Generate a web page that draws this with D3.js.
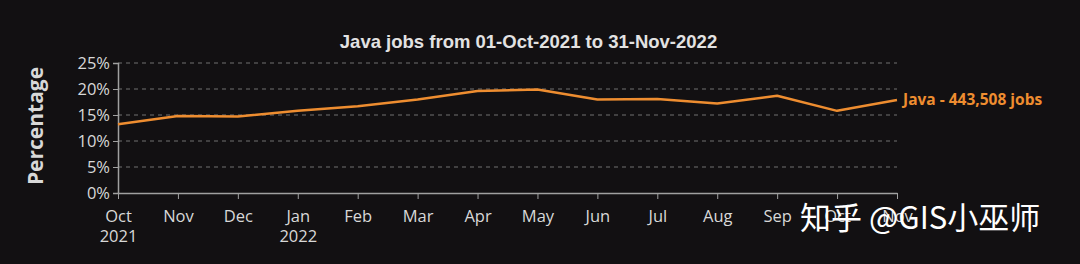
<!DOCTYPE html>
<html>
<head>
<meta charset="utf-8">
<script src="https://cdn.jsdelivr.net/npm/d3@7"></script>
<style>
  html, body { margin: 0; padding: 0; background: #121012; }
  svg { display: block; }
</style>
</head>
<body>
<div id="chart"></div>
<script>
// Datos del gráfico
const months = ['Oct', 'Nov', 'Dec', 'Jan', 'Feb', 'Mar', 'Apr', 'May', 'Jun', 'Jul', 'Aug', 'Sep', 'Oct ', 'Nov ']
const yearLabels = { 'Oct': '2021', 'Jan': '2022' }
const javaShare = [13.2, 14.8, 14.7, 15.8, 16.7, 18.0, 19.6, 19.9, 18.0, 18.1, 17.2, 18.7, 15.8, 17.9]
const yTicks = [0, 5, 10, 15, 20, 25]
const seriesLabel = 'Java - 443,508 jobs'
const title = 'Java jobs from 01-Oct-2021 to 31-Nov-2022'

const width = 1080, height = 264
const margin = { top: 63, right: 183, bottom: 71, left: 118 }

const svg = d3.select('#chart').append('svg')
  .attr('width', width)
  .attr('height', height)

svg.append('rect').attr('width', width).attr('height', height).attr('fill', '#121012')

// Escalas
const x = d3.scalePoint()
  .domain(months)
  .range([margin.left, width - margin.right])

const y = d3.scaleLinear()
  .domain([0, 25])
  .range([height - margin.bottom, margin.top])

// Grilla punteada
svg.append('g')
  .selectAll('line')
  .data(yTicks.filter(d => d > 0))
  .enter()
  .append('line')
  .attr('x1', margin.left)
  .attr('x2', width - margin.right)
  .attr('y1', d => y(d))
  .attr('y2', d => y(d))
  .attr('stroke', '#707070')
  .attr('stroke-width', 1)
  .attr('stroke-dasharray', '4,4')

// Eje x
const xAxis = svg.append('g')
  .attr('transform', `translate(0, ${y(0)})`)
  .call(d3.axisBottom(x).tickSize(6).tickSizeOuter(0).tickPadding(11))
xAxis.select('.domain').attr('stroke', '#a0a0a0').attr('stroke-width', 1.5)
xAxis.selectAll('.tick line').attr('stroke', '#a0a0a0')
xAxis.selectAll('.tick text')
  .attr('fill', '#d8d8d8')
  .attr('font-family', 'Open Sans, sans-serif')
  .attr('font-size', 16.5)
  .each(function (d) {
    const t = d3.select(this)
    if (yearLabels[d]) {
      t.append('tspan').attr('x', 0).attr('dy', '1.2em').text(yearLabels[d])
    }
  })

// Eje y
const yAxis = svg.append('g')
  .attr('transform', `translate(${margin.left}, 0)`)
  .call(d3.axisLeft(y).tickValues(yTicks).tickFormat(d => d + '%').tickSize(5).tickPadding(3))
yAxis.select('.domain').attr('stroke', '#a0a0a0').attr('stroke-width', 1.5)
yAxis.selectAll('.tick line').attr('stroke', '#a0a0a0')
yAxis.selectAll('.tick text')
  .attr('fill', '#d8d8d8')
  .attr('font-family', 'Open Sans, sans-serif')
  .attr('font-size', 16.5)

// Línea
const line = d3.line()
  .x((d, i) => x(months[i]))
  .y(d => y(d))

svg.append('path')
  .datum(javaShare)
  .attr('fill', 'none')
  .attr('stroke', '#ee8d30')
  .attr('stroke-width', 2.5)
  .attr('stroke-linejoin', 'round')
  .attr('d', line)

// Etiqueta de la serie
svg.append('text')
  .attr('x', x(months[months.length - 1]) + 6)
  .attr('y', y(javaShare[javaShare.length - 1]) + 5)
  .attr('fill', '#ee8d30')
  .attr('font-family', 'Open Sans, sans-serif')
  .attr('font-weight', 'bold')
  .attr('font-size', 15.5)
  .text(seriesLabel)

// Título
svg.append('text')
  .attr('x', (margin.left + width - margin.right) / 2 + 21)
  .attr('y', 48)
  .attr('text-anchor', 'middle')
  .attr('fill', '#e2e2e2')
  .attr('font-family', 'Liberation Sans, Arial, sans-serif')
  .attr('font-weight', 'bold')
  .attr('font-size', 18.5)
  .text(title)

// Título del eje y
svg.append('text')
  .attr('transform', `translate(43, ${(margin.top + height - margin.bottom) / 2 - 2}) rotate(-90)`)
  .attr('text-anchor', 'middle')
  .attr('fill', '#d8d8d8')
  .attr('font-family', 'Open Sans, sans-serif')
  .attr('font-weight', 'bold')
  .attr('font-size', 21)
  .text('Percentage')

// Marca de agua
svg.append('text')
  .attr('x', 800)
  .attr('y', 229)
  .attr('fill', '#ffffff')
  .attr('font-family', 'Noto Sans CJK SC, sans-serif')
  .attr('font-size', 31)
  .text('知乎 @GIS小巫师')
</script>
</body>
</html>
